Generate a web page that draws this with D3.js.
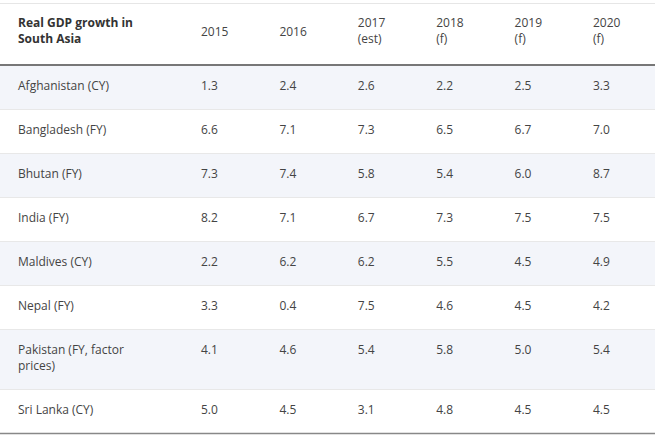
<!DOCTYPE html>
<html>
<head>
<meta charset="utf-8">
<script src="https://cdn.jsdelivr.net/npm/d3@7"></script>
<style>
html,body{margin:0;padding:0;background:#fff;}
svg{display:block;font-family:"Open Sans",sans-serif;}
</style>
</head>
<body>
<svg id="chart" width="658" height="440"></svg>
<script>
const title = ["Real GDP growth in", "South Asia"];
const columns = [["2015"], ["2016"], ["2017", "(est)"], ["2018", "(f)"], ["2019", "(f)"], ["2020", "(f)"]];
const countries = [
  ["Afghanistan (CY)"],
  ["Bangladesh (FY)"],
  ["Bhutan (FY)"],
  ["India (FY)"],
  ["Maldives (CY)"],
  ["Nepal (FY)"],
  ["Pakistan (FY, factor", "prices)"],
  ["Sri Lanka (CY)"]
];
const v2015 = [1.3, 6.6, 7.3, 8.2, 2.2, 3.3, 4.1, 5.0];
const v2016 = [2.4, 7.1, 7.4, 7.1, 6.2, 0.4, 4.6, 4.5];
const v2017 = [2.6, 7.3, 5.8, 6.7, 6.2, 7.5, 5.4, 3.1];
const v2018 = [2.2, 6.5, 5.4, 7.3, 5.5, 4.6, 5.8, 4.8];
const v2019 = [2.5, 6.7, 6.0, 7.5, 4.5, 4.5, 5.0, 4.5];
const v2020 = [3.3, 7.0, 8.7, 7.5, 4.9, 4.2, 5.4, 4.5];

const series = [v2015, v2016, v2017, v2018, v2019, v2020];
const svg = d3.select("#chart");

const left = 0, right = 655;
const x = d3.scalePoint().domain(d3.range(columns.length)).range([201, 593]);
const labelX = 18;
const headerTop = 3, headerH = 61;
const lineH = 16;

let y0 = headerTop + headerH + 2;
const rows = countries.map((c, i) => {
  const h = c.length > 1 ? 60 : 44;
  const r = {label: c, top: y0, h: h, i: i};
  y0 += h;
  return r;
});

svg.append("line").attr("x1", left).attr("x2", right)
  .attr("y1", headerTop + 0.5).attr("y2", headerTop + 0.5)
  .attr("stroke", "#e6e6e6");

const hc = headerTop + headerH / 2 - 2;
svg.append("text").attr("x", labelX).attr("y", headerTop + 20)
  .attr("fill", "#333").attr("font-size", 12).attr("font-weight", "bold")
  .selectAll("tspan").data(title).join("tspan")
  .attr("x", labelX).attr("dy", (d, i) => i === 0 ? "0.35em" : lineH)
  .text(d => d);

columns.forEach((c, j) => {
  const startY = c.length > 1 ? headerTop + 20 : hc;
  svg.append("text").attr("x", x(j)).attr("y", startY)
    .attr("fill", "#444").attr("font-size", 12)
    .selectAll("tspan").data(c).join("tspan")
    .attr("x", x(j)).attr("dy", (d, i) => i === 0 ? "0.35em" : lineH)
    .text(d => d);
});

svg.append("rect").attr("x", left).attr("y", headerTop + headerH)
  .attr("width", right - left).attr("height", 2).attr("fill", "#777");

const g = svg.selectAll("g.row").data(rows).join("g").attr("class", "row")
  .attr("transform", d => `translate(0,${d.top})`);

g.append("rect").attr("x", left).attr("y", 0).attr("width", right - left)
  .attr("height", d => d.h)
  .attr("fill", d => d.i % 2 === 0 ? "#f3f5fa" : "#fff");

g.append("line").attr("x1", left).attr("x2", right)
  .attr("y1", d => d.h - 0.5).attr("y2", d => d.h - 0.5)
  .attr("stroke", (d, i) => i === rows.length - 1 ? "#888" : "#e8e8e8")
  .attr("stroke-width", (d, i) => i === rows.length - 1 ? 1.5 : 1);

const textY = d => d.label.length > 1 ? 20 : d.h / 2 - 2.5;

g.append("text").attr("y", textY)
  .attr("fill", "#444").attr("font-size", 12)
  .selectAll("tspan").data(d => d.label).join("tspan")
  .attr("x", labelX).attr("dy", (d, i) => i === 0 ? "0.35em" : lineH)
  .text(d => d);

series.forEach((vals, j) => {
  g.append("text").attr("x", x(j))
    .attr("y", textY)
    .attr("dy", "0.35em")
    .attr("fill", "#444").attr("font-size", 12)
    .text(d => vals[d.i].toFixed(1));
});
</script>
</body>
</html>
